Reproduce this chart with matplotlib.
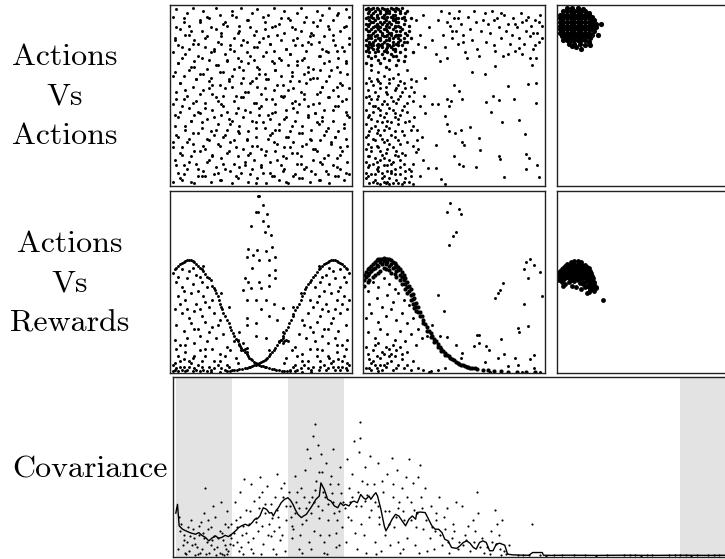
"""Actions vs actions / actions vs rewards scatter grid with covariance trace."""
import numpy as np
import matplotlib

matplotlib.use("Agg")
import matplotlib.pyplot as plt

# every scatter panel is normalised to 0..100 on both axes

# --- row 1, col 1: uniform actions (read band by band) ---
AA_UNI_X = [
    1, 4, 6, 9, 13, 15, 18, 22, 24, 27, 30, 34, 36, 39, 43, 45, 48, 51, 53, 57, 60, 62, 65, 69, 71, 74, 77, 80, 82, 86, 88, 91, 94, 96, 99,
    2, 5, 7, 11, 14, 16, 20, 23, 25, 28, 32, 35, 37, 41, 44, 46, 50, 52, 55, 58, 61, 64, 67, 70, 72, 75, 79, 81, 84, 87, 90, 92, 95, 98,
    1, 3, 6, 10, 12, 15, 19, 21, 24, 27, 29, 33, 36, 38, 42, 45, 47, 50, 54, 56, 59, 63, 65, 68, 71, 73, 77, 79, 83, 85, 89, 91, 94, 97,
    2, 4, 8, 11, 13, 17, 20, 22, 26, 28, 31, 34, 38, 40, 43, 47, 49, 52, 55, 58, 60, 64, 66, 69, 73, 76, 78, 81, 84, 87, 90, 93, 96, 99,
    1, 5, 7, 10, 14, 16, 19, 23, 25, 29, 31, 35, 37, 40, 44, 46, 49, 53, 56, 58, 62, 64, 67, 70, 74, 76, 80, 82, 85, 88, 91, 95, 97,
    3, 5, 9, 12, 14, 18, 21, 23, 27, 30, 32, 36, 39, 41, 45, 48, 50, 54, 57, 59, 63, 66, 68, 72, 75, 77, 81, 84, 86, 90, 93, 95, 99,
    2, 4, 7, 11, 13, 16, 20, 22, 25, 29, 31, 34, 38, 40, 43, 47, 49, 52, 56, 58, 61, 65, 67, 70, 74, 76, 79, 83, 85, 88, 92, 94, 97,
    1, 4, 6, 10, 12, 15, 19, 21, 24, 28, 30, 33, 37, 39, 42, 46, 48, 51, 55, 57, 60, 64, 66, 69, 73, 75, 78, 82, 84, 87, 91, 93, 96, 99,
    2, 5, 8, 10, 13, 17, 20, 22, 26, 28, 31, 35, 38, 40, 44, 46, 49, 52, 54, 58, 61, 63, 67, 70, 72, 76, 79, 81, 85, 88, 90, 94, 97,
    1, 3, 7, 9, 12, 16, 18, 21, 25, 27, 30, 34, 36, 39, 43, 45, 48, 52, 54, 57, 61, 63, 66, 70, 72, 75, 79, 81, 84, 88, 90, 93, 97, 99,
]
AA_UNI_Y = [
    2, 7, 3, 9, 1, 5, 8, 2, 6, 3, 9, 1, 5, 7, 2, 9, 4, 7, 1, 5, 3, 8, 1, 6, 4, 9, 2, 6, 3, 8, 1, 5, 9, 3, 6,
    14, 18, 11, 16, 12, 19, 13, 17, 10, 15, 19, 12, 16, 11, 18, 14, 10, 17, 13, 19, 11, 15, 18, 12, 16, 10, 14, 19, 12, 17, 11, 15, 19, 13,
    24, 28, 21, 26, 23, 29, 20, 25, 28, 22, 27, 24, 21, 29, 25, 22, 27, 20, 26, 29, 23, 21, 27, 24, 29, 22, 26, 20, 25, 28, 23, 27, 21, 26,
    33, 38, 31, 36, 39, 32, 37, 30, 34, 39, 31, 36, 33, 38, 30, 35, 39, 32, 37, 31, 34, 38, 30, 36, 33, 39, 31, 35, 38, 32, 36, 30, 34, 38,
    45, 41, 48, 43, 47, 40, 46, 42, 49, 44, 41, 47, 43, 49, 41, 46, 43, 48, 40, 45, 49, 42, 46, 41, 48, 44, 40, 46, 42, 49, 44, 47, 41,
    52, 57, 50, 55, 59, 53, 58, 51, 56, 54, 59, 50, 57, 52, 58, 55, 51, 59, 53, 56, 50, 58, 54, 52, 57, 59, 51, 55, 58, 53, 50, 56, 54,
    63, 68, 61, 66, 69, 62, 65, 60, 67, 63, 69, 61, 66, 64, 68, 60, 65, 62, 69, 64, 61, 67, 63, 69, 62, 66, 60, 64, 68, 61, 66, 63, 69,
    74, 78, 71, 76, 79, 72, 77, 70, 75, 79, 73, 76, 71, 78, 74, 70, 77, 72, 79, 75, 71, 76, 73, 78, 70, 75, 79, 72, 76, 74, 78, 71, 75, 79,
    82, 87, 84, 89, 81, 86, 83, 88, 80, 85, 89, 82, 86, 81, 88, 84, 80, 87, 83, 89, 81, 85, 88, 82, 86, 80, 84, 89, 83, 87, 81, 86, 89,
    94, 98, 91, 96, 99, 92, 97, 93, 99, 95, 91, 97, 94, 99, 92, 96, 98, 91, 95, 99, 93, 97, 92, 96, 99, 94, 91, 97, 95, 99, 92, 96, 98, 94,
]
# second pass over the same panel, bands shifted by half a band
AA_UNI2_X = [
    3, 7, 10, 15, 17, 21, 26, 29, 33, 38, 41, 44, 50, 55, 59, 63, 68, 72, 78, 83, 87, 92, 97,
    1, 6, 9, 13, 18, 23, 26, 31, 35, 40, 43, 48, 53, 57, 62, 66, 70, 75, 80, 85, 89, 94, 98,
    4, 8, 12, 17, 20, 25, 30, 33, 37, 42, 47, 51, 55, 60, 64, 67, 73, 78, 82, 86, 91, 96,
    2, 6, 11, 15, 19, 24, 28, 32, 36, 41, 45, 50, 54, 58, 63, 68, 71, 76, 80, 84, 90, 93, 98,
    3, 8, 12, 16, 21, 26, 29, 34, 39, 43, 47, 52, 56, 61, 65, 69, 74, 79, 83, 87, 92, 97,
    1, 5, 10, 14, 18, 23, 27, 32, 35, 40, 44, 49, 53, 58, 62, 67, 71, 76, 81, 84, 89, 94, 98,
    4, 8, 13, 17, 22, 26, 31, 35, 39, 44, 48, 53, 57, 61, 66, 70, 74, 79, 83, 88, 92, 97,
    2, 6, 10, 15, 19, 24, 28, 33, 37, 42, 46, 51, 55, 59, 64, 68, 73, 77, 82, 86, 90, 95, 99,
    3, 7, 11, 16, 20, 25, 29, 34, 38, 42, 47, 51, 56, 60, 65, 69, 74, 78, 83, 87, 92, 96,
    5, 11, 19, 28, 37, 47, 56, 64, 73, 83, 93,
]
AA_UNI2_Y = [
    11, 6, 13, 9, 5, 14, 7, 12, 8, 10, 13, 6, 11, 7, 14, 9, 5, 12, 8, 13, 6, 10, 7,
    21, 17, 24, 19, 22, 16, 23, 18, 25, 20, 17, 22, 19, 24, 16, 21, 18, 23, 20, 15, 24, 17, 22,
    27, 33, 29, 35, 26, 31, 28, 34, 30, 26, 32, 35, 28, 31, 27, 33, 29, 25, 34, 30, 27, 32,
    39, 44, 36, 41, 43, 38, 45, 37, 40, 42, 36, 44, 39, 41, 37, 43, 45, 38, 40, 36, 42, 44, 39,
    48, 53, 46, 51, 54, 47, 50, 55, 49, 52, 46, 54, 48, 50, 53, 47, 51, 45, 52, 49, 55, 48,
    61, 57, 64, 59, 62, 56, 63, 58, 65, 60, 57, 62, 59, 64, 56, 61, 58, 63, 60, 55, 64, 57, 62,
    68, 73, 66, 71, 74, 67, 70, 75, 69, 72, 66, 74, 68, 70, 73, 67, 71, 65, 72, 69, 75, 68,
    81, 77, 84, 79, 82, 76, 83, 78, 85, 80, 77, 82, 79, 84, 76, 81, 78, 83, 80, 75, 84, 77, 82,
    88, 93, 86, 91, 94, 87, 90, 95, 89, 92, 86, 94, 88, 90, 93, 87, 91, 85, 92, 89, 95, 88,
    4, 2, 5, 3, 4, 1, 5, 2, 4, 3, 5,
]

# --- row 1, col 2: actions after partial learning ---
AA_MID_CLUSTER = [
    (1, 98), (3, 97), (5, 99), (6, 97), (8, 98), (10, 99), (12, 97), (13, 98), (15, 99), (17, 97), (19, 98), (21, 99), (24, 97),
    (2, 96), (4, 95), (5, 96), (7, 94), (9, 96), (11, 95), (13, 94), (14, 96), (16, 95), (18, 93), (20, 96), (22, 94),
    (1, 93), (3, 92), (4, 94), (6, 92), (8, 93), (9, 91), (11, 93), (12, 92), (14, 91), (16, 93), (17, 92), (19, 91), (21, 93), (23, 92),
    (1, 90), (2, 89), (4, 91), (6, 89), (7, 90), (9, 88), (10, 90), (12, 89), (14, 88), (15, 90), (17, 89), (18, 91), (20, 88), (22, 90), (25, 89),
    (1, 87), (3, 86), (5, 88), (6, 86), (8, 87), (10, 85), (11, 87), (13, 86), (15, 85), (16, 87), (18, 86), (19, 84), (21, 87), (23, 85),
    (2, 84), (3, 83), (5, 85), (7, 84), (9, 82), (10, 84), (12, 83), (14, 82), (15, 84), (17, 83), (19, 82), (20, 84), (22, 82), (24, 84),
    (1, 81), (3, 80), (4, 82), (6, 81), (8, 79), (9, 81), (11, 80), (13, 79), (14, 81), (16, 80), (18, 79), (20, 81), (21, 78), (26, 82),
    (1, 78), (2, 77), (4, 79), (5, 78), (7, 76), (9, 78), (10, 77), (12, 76), (14, 78), (15, 77), (17, 76), (19, 78), (22, 80),
    (1, 75), (3, 74), (5, 76), (6, 74), (8, 75), (10, 73), (12, 75), (13, 74), (15, 73), (17, 75), (18, 72), (20, 74), (23, 76),
    (2, 72), (4, 71), (6, 72), (8, 70), (11, 71), (14, 70), (16, 72), (19, 70), (23, 72), (27, 74),
    (1, 68), (4, 67), (9, 68), (12, 66), (18, 67), (22, 69),
    (2, 99), (4, 98), (7, 99), (9, 97), (11, 98), (14, 97), (16, 98), (18, 99), (20, 97), (2, 94), (5, 93), (7, 95),
    (10, 94), (12, 96), (15, 94), (17, 95), (19, 93), (3, 90), (5, 91), (8, 89), (11, 91), (13, 90), (16, 92), (19, 89),
    (2, 86), (4, 87), (7, 88), (9, 86), (12, 87), (14, 85), (17, 88), (20, 86), (2, 82), (4, 84), (6, 83), (8, 82),
    (11, 83), (13, 84), (16, 82), (18, 84), (3, 79), (5, 80), (7, 78), (10, 79), (12, 81), (16, 78), (19, 80), (2, 76),
    (4, 77), (8, 77), (11, 75), (13, 77), (16, 76), (24, 80), (25, 86), (26, 93), (23, 96),
]
AA_MID_LEFT = [
    (3, 60), (7, 59), (11, 61), (16, 60), (20, 58), (26, 59),
    (1, 57), (5, 56), (8, 58), (12, 55), (14, 57), (19, 56), (23, 54),
    (2, 53), (6, 52), (9, 54), (13, 51), (17, 53), (21, 52), (25, 50),
    (1, 49), (4, 48), (8, 50), (11, 47), (15, 49), (19, 48), (27, 47),
    (3, 46), (6, 44), (10, 45), (14, 43), (18, 46), (22, 44),
    (1, 42), (5, 41), (8, 43), (12, 40), (16, 42), (20, 39), (24, 41),
    (2, 38), (4, 37), (9, 39), (13, 36), (17, 38), (23, 35),
    (1, 34), (6, 33), (10, 35), (14, 32), (19, 34), (26, 31),
    (3, 30), (7, 29), (11, 31), (15, 28), (21, 30),
    (1, 27), (5, 26), (9, 28), (13, 25), (17, 27), (24, 24),
    (2, 23), (7, 22), (11, 24), (16, 21), (20, 23),
    (1, 20), (4, 19), (8, 21), (12, 18), (18, 19), (23, 17),
    (3, 16), (6, 15), (10, 17), (14, 14), (19, 16),
    (1, 13), (5, 12), (9, 14), (13, 11), (16, 13), (22, 12),
    (2, 10), (7, 9), (11, 11), (15, 8), (20, 10), (25, 9),
    (1, 7), (4, 6), (8, 8), (11, 5), (15, 7), (20, 6), (26, 5),
    (1, 4), (6, 3), (10, 4), (13, 2), (18, 3), (23, 4),
    (3, 1), (5, 2), (9, 0.5), (12, 1), (16, 1), (21, 0.5), (14, 0.5),
    (4, 58), (9, 57), (14, 59), (18, 54), (22, 57), (3, 50), (7, 48), (12, 52), (16, 47), (20, 50), (24, 46),
    (5, 44), (9, 42), (13, 45), (17, 40), (21, 42), (3, 39), (7, 36), (11, 38), (15, 35), (19, 37), (25, 36),
    (4, 32), (8, 31), (12, 33), (17, 30), (22, 28), (2, 28), (6, 25), (10, 26), (14, 23), (19, 25), (4, 21),
    (9, 19), (13, 20), (17, 17), (21, 18), (2, 16), (7, 13), (11, 15), (15, 12), (20, 14), (3, 11), (8, 10),
    (13, 8), (17, 9), (23, 8), (2, 5), (6, 6), (10, 7), (14, 4), (17, 6), (22, 2), (7, 1), (11, 2), (19, 1),
    (25, 2), (27, 12), (28, 38), (26, 55), (4, 64), (8, 63), (14, 65), (19, 62), (24, 64),
]
AA_MID_TOP = [
    (33, 95), (36, 88), (38, 81), (41, 92), (44, 84), (45, 77), (47, 96), (48, 89), (49, 82), (50, 93), (51, 86),
    (52, 79), (54, 90), (55, 84), (56, 74), (58, 94), (59, 87), (60, 81), (62, 91), (63, 76), (65, 86), (67, 96),
    (68, 80), (69, 90), (70, 85), (71, 97), (72, 78), (74, 93), (75, 88), (76, 82), (77, 72), (78, 95), (79, 86),
    (80, 90), (81, 79), (82, 84), (83, 93), (84, 75), (85, 88), (86, 82), (87, 96), (88, 91), (89, 79), (90, 86),
    (91, 94), (92, 83), (93, 89), (94, 76), (95, 92), (96, 85), (97, 80), (98, 95), (99, 89), (31, 84), (34, 77),
    (40, 73), (43, 97), (46, 71), (53, 97), (57, 71), (61, 97), (64, 72), (66, 92), (73, 75), (88, 73), (92, 71),
    (95, 78), (99, 82), (29, 92), (30, 79), (46, 91), (49, 86), (52, 93), (55, 80), (72, 92), (76, 96), (84, 90),
    (90, 92), (94, 85), (97, 91),
]
AA_MID_SPARSE = [
    (34, 60), (42.5, 69), (60, 63), (67, 62), (50, 56), (53, 52.5), (33.6, 50), (46, 48), (54.7, 48), (37.6, 45.5),
    (41, 45.5), (47, 44), (48.6, 47), (68, 46.4), (71.5, 50), (75, 47.7), (80, 55.4), (83.5, 48), (91, 56.5),
    (95.4, 57), (95.4, 46), (70.6, 41), (76.7, 35.4), (86, 36.3), (45, 38.5), (46, 34), (47.3, 30), (50.5, 29),
    (54, 31), (58.7, 32.3), (63.8, 26.2), (54.7, 23.9), (55.4, 22.6), (64.6, 19.4), (40, 22.6), (50, 16.5),
    (52.8, 12), (55, 10.6), (62.4, 10), (75, 16.5), (75.8, 14.7), (89.5, 28.4), (90, 17.6), (91.4, 15.2),
    (96.3, 11.2), (90, 8.8), (97, 4.8), (78, 4.8), (42.6, 3.3), (45, 0.5), (35.8, 9.7), (40, 9.7), (29.4, 30.8),
    (29.7, 25.3), (29, 18.3), (27.5, 0.5), (73, 66.6), (93.2, 66.9), (79.8, 73), (95.4, 71.2), (86.2, 76.7),
    (28, 52), (31, 44), (27, 33), (30, 20), (33, 14), (26, 8), (31, 5), (29, 58), (32, 27), (27, 22), (34, 40),
]

# --- row 1, col 3: converged actions ---
AA_END_BLOB = [
    (5, 99), (8, 99), (11, 99), (14, 98),
    (3, 97), (5, 97), (7, 97), (9, 97), (11, 97), (13, 97), (15, 97), (17, 96),
    (1, 95), (3, 95), (5, 95), (7, 95), (9, 95), (11, 95), (13, 95), (15, 95), (17, 95), (19, 94),
    (1, 93), (3, 93), (5, 93), (7, 93), (9, 93), (11, 93), (13, 93), (15, 93), (17, 93), (19, 93), (20, 92),
    (1, 91), (3, 91), (5, 91), (7, 91), (9, 91), (11, 91), (13, 91), (15, 91), (17, 91), (19, 91), (21, 90),
    (1, 89), (3, 89), (5, 89), (7, 89), (9, 89), (11, 89), (13, 89), (15, 89), (17, 89), (19, 89), (21, 88),
    (1, 87), (3, 87), (5, 87), (7, 87), (9, 87), (11, 87), (13, 87), (15, 87), (17, 87), (19, 87), (20, 86),
    (1, 85), (3, 85), (5, 85), (7, 85), (9, 85), (11, 85), (13, 85), (15, 85), (17, 85), (19, 84),
    (2, 83), (4, 83), (6, 83), (8, 83), (10, 83), (12, 83), (14, 83), (16, 83), (18, 82),
    (3, 81), (5, 81), (7, 81), (9, 81), (11, 81), (13, 81), (15, 81), (17, 80),
    (6, 79), (9, 79), (12, 79), (15, 78), (10, 77), (13, 76), (8, 77.5),
    (24, 90), (22, 84), (18, 78),
]

# --- row 2, col 1: action vs reward, early ---
AR_START_LEFT_CURVE = [
    (1, 55), (2, 57), (3, 58), (4, 59), (5, 60), (6, 60.5), (7, 61), (8, 61.5), (9, 62), (10, 62), (11, 62),
    (12, 61.5), (13, 61), (14, 60), (15, 59), (16, 58), (17, 57), (18, 56), (19, 54.5), (20, 53), (21, 52),
    (22, 51), (23, 48), (24, 46.5), (24.5, 45.5), (25, 44), (26, 42), (26.5, 40), (27, 38), (28, 36), (28.5, 35),
    (29, 33), (30, 31), (31, 29), (32, 27), (33, 25), (33.6, 23.5), (34.5, 21.5), (35, 20), (36, 18.5), (37, 17),
    (38, 15.5), (38.5, 14.5), (39, 13.5), (40, 12.5), (41, 11), (42, 10), (43, 8.8), (43.6, 8), (44.5, 7.2),
    (45, 6.5), (46, 5.7), (47, 5), (48, 4.5), (49, 4), (50, 3.6), (51, 3.3), (52, 2.9), (53, 2.6), (54.5, 2.2),
    (56, 1.8), (57, 1.6), (58.5, 1.3), (60, 1), (61.5, 0.8), (63, 0.7), (64.5, 0.6), (66, 0.5), (69, 0.4), (73, 0.3), (78, 0.2),
]
AR_START_RIGHT_CURVE = [
    (99, 55), (98, 57), (97, 58), (96, 59), (95, 60), (94, 60.5), (93, 61), (92, 61.5), (91, 62), (90, 62), (89, 62),
    (88, 61.5), (87, 61), (86, 60.5), (85, 60), (84, 59), (83, 58), (82, 57), (81, 55.5), (80, 54), (79, 52.5),
    (78, 51), (77, 50), (76, 49), (75, 47.5), (74.5, 46), (74, 44), (73, 42), (72, 40), (71, 38), (70, 36),
    (69, 34.5), (68, 32.5), (67.5, 31), (66.5, 29), (65.5, 27), (65, 25), (64, 23.5), (63, 21.5), (62, 20),
    (61, 18), (60, 16.5), (59, 15), (58, 13.4), (57, 12), (56, 11), (55, 9.8), (54.5, 8.8), (53.5, 8),
    (53, 7.5), (52, 6.7), (51, 6), (50, 5.5), (49, 5), (48, 4.6), (47, 4.2), (46, 3.8), (45, 3.4), (44, 3),
    (43.6, 2.8), (42, 2.4), (41, 2.1), (39.5, 1.8), (38, 1.5), (36.5, 1.2), (35, 1), (33, 0.7), (31, 0.5), (27, 0.3), (22, 0.2),
]
AR_START_SCATTER = [
    (3, 50), (6, 47), (9, 52), (12, 49), (15, 45), (4, 42), (8, 40), (11, 44), (14, 38), (18, 42), (20, 47), (2, 35),
    (6, 33), (10, 30), (13, 34), (17, 31), (21, 36), (24, 33), (3, 26), (7, 23), (11, 27), (15, 24), (19, 28), (23, 25),
    (27, 29), (2, 18), (5, 15), (9, 19), (13, 16), (16, 20), (20, 17), (25, 19), (29, 21), (31, 14), (4, 9), (8, 11),
    (12, 8), (16, 12), (19, 9), (23, 13), (27, 10), (33, 12), (35, 17), (1, 4), (3, 2), (5, 6), (7, 3), (9, 1),
    (11, 5), (13, 2), (15, 4), (18, 1), (21, 3), (24, 6), (28, 2), (31, 4), (34, 1), (37, 5), (2, 1), (6, 1),
    (10, 3), (14, 1), (17, 6), (22, 1), (26, 4), (30, 1), (6, 57), (10, 56), (14, 54), (4, 53), (17, 50), (23, 40),
    (26, 26), (32, 36), (28, 44), (36, 8), (38, 22), (1, 0.5), (4, 0.8), (8, 0.5), (12, 0.6), (16, 0.4), (20, 0.7),
    (97, 50), (94, 47), (91, 52), (88, 49), (85, 45), (96, 42), (92, 40), (89, 44), (86, 38), (82, 42), (80, 47),
    (98, 35), (94, 33), (90, 30), (87, 34), (83, 31), (79, 36), (76, 33), (97, 26), (93, 23), (89, 27), (85, 24),
    (81, 28), (77, 25), (73, 29), (98, 18), (95, 15), (91, 19), (87, 16), (84, 20), (80, 17), (75, 19), (71, 21),
    (69, 14), (96, 9), (92, 11), (88, 8), (84, 12), (81, 9), (77, 13), (73, 10), (67, 12), (65, 17), (99, 4),
    (97, 2), (95, 6), (93, 3), (91, 1), (89, 5), (87, 2), (85, 4), (82, 1), (79, 3), (76, 6), (72, 2), (69, 4),
    (66, 1), (63, 5), (98, 1), (94, 1), (90, 3), (86, 1), (83, 6), (78, 1), (74, 4), (70, 1), (94, 57), (90, 56),
    (86, 54), (96, 53), (83, 50), (77, 40), (74, 26), (68, 36), (72, 44), (64, 8), (62, 22), (99, 40),
    (61, 18), (62, 19), (63, 17), (62, 16), (64, 18), (60, 17), (38, 15), (40, 16), (39, 12), (41, 13), (37, 18), (42, 11),
    (48.5, 97.5), (49, 98), (47, 89), (48.5, 89), (51, 92.5), (53.6, 88), (44.5, 81), (54, 81), (52, 77.5), (55.5, 76),
    (42.7, 68.5), (48, 67.5), (53, 67), (56, 69.5), (42, 64), (45.5, 65), (48.7, 62), (54.5, 62), (58, 64), (58, 56.5),
    (54.5, 54), (41, 52), (42.7, 50), (48.7, 50), (54.5, 48), (58, 52), (44.5, 46.5), (50, 46.5), (40, 45.5), (42, 40),
    (47, 40), (52.7, 40), (57, 38), (62, 35.5), (42, 30), (54.5, 31), (59, 29), (47, 27.5), (42.4, 26), (47, 20),
    (52.7, 19), (54.5, 12.5), (42, 13.4), (50, 35), (45, 58), (51, 84),
    (2, 5), (5, 3), (7, 7), (10, 6), (13, 9), (17, 3), (19, 13), (24, 2), (27, 6), (30, 9), (32, 3), (8, 15),
    (3, 13), (13, 24), (21, 22), (7, 45), (5, 38), (9, 35), (16, 35), (19, 39), (12, 58), (16, 53), (18, 59),
    (98, 5), (95, 3), (93, 7), (90, 6), (87, 9), (83, 3), (81, 13), (76, 2), (73, 6), (70, 9), (68, 3), (92, 15),
    (97, 13), (87, 24), (79, 22), (93, 45), (95, 38), (91, 35), (84, 35), (81, 39), (88, 58), (84, 53), (82, 59),
]

# --- row 2, col 2: action vs reward, mid training ---
AR_MID_BAND = [
    (0, 54), (2, 57), (4, 59), (6, 61), (8, 62.5), (10, 63), (12, 63), (14, 62.5), (16, 61), (18, 59.5), (20, 57),
    (22, 54), (24, 50), (26, 46), (28, 41), (30, 36), (32, 31), (34, 26.5), (36, 23), (38, 20), (40, 17), (42, 14),
    (44, 11.5), (46, 9.5), (48, 8), (50, 6.5), (52, 5.2), (54, 4.2), (56, 3.5), (58, 2.8), (60, 2.2), (63, 1.7),
    (66, 1.2), (69, 0.9), (72, 0.6), (76, 0.4), (80, 0.3), (85, 0.2), (90, 0.1), (95, 0.1),
    (1, 55.5), (3, 58), (5, 60), (7, 62), (9, 63), (11, 63.2), (13, 63), (15, 62), (17, 60.5), (19, 58.5), (21, 55.5),
    (23, 52), (25, 48), (27, 43.5), (29, 38.5), (31, 33.5), (33, 29), (35, 25), (37, 21.5), (39, 18.5), (41, 15.5),
    (43, 12.7), (45, 10.5), (47, 8.7), (49, 7.2), (51, 5.8), (53, 4.7), (55, 3.8), (57, 3.1), (59, 2.5), (61.5, 2),
    (0, 51), (2, 54), (4, 56), (6, 58), (8, 59), (10, 60), (12, 60), (14, 59), (16, 58), (18, 56), (20, 54), (22, 51),
    (24, 47), (26, 43), (28, 38), (30, 33.5), (1, 52.5), (3, 55), (5, 57), (7, 59.5), (9, 61), (11, 61.5), (13, 61),
    (15, 60), (17, 58.5), (19, 56.5), (21, 52.5), (23, 49), (25, 45), (27, 40.5), (29, 36),
    (0, 48), (3, 51), (6, 54), (9, 56), (12, 57), (15, 55), (18, 53), (21, 49), (24, 44), (27, 38), (29, 34),
    (31, 31), (33, 27), (35, 23), (37, 19.5), (39, 16.5), (41, 14), (43, 11.5), (45, 9.5),
    (2, 50), (5, 53), (8, 55), (11, 57.5), (14, 56.5), (17, 54.5), (20, 51), (23, 46), (26, 40), (28, 35.5),
]
AR_MID_SCATTER = [
    (2, 45), (5, 50), (8, 47), (11, 52), (14, 49), (17, 46), (20, 51), (3, 38), (7, 41), (10, 36), (13, 43), (16, 39),
    (19, 44), (22, 40), (25, 37), (1, 30), (4, 33), (8, 28), (12, 31), (15, 35), (18, 29), (21, 33), (24, 27), (27, 30),
    (30, 24), (2, 22), (6, 19), (9, 24), (13, 21), (17, 18), (20, 23), (23, 17), (26, 21), (29, 15), (32, 19), (35, 20),
    (1, 14), (5, 12), (8, 16), (11, 10), (14, 13), (17, 9), (20, 14), (24, 11), (3, 7), (6, 4), (9, 8), (12, 3),
    (15, 6), (18, 2), (21, 7), (24, 4), (27, 6), (1, 2), (4, 1), (7, 2), (10, 1), (13, 5), (16, 1), (19, 4), (22, 2),
    (2, 10), (5, 6), (10, 11), (14, 9), (16, 15), (3, 2), (8, 0.5), (11, 4), (26, 1), (30, 2), (33, 1), (37, 0.5),
    (41, 1), (45, 2), (6, 15), (12, 14), (9, 4), (15, 10), (18, 12), (4, 5), (7, 9), (21, 10),
    (48, 94), (46, 88.6), (52.7, 90.5), (54, 88), (51, 78), (49.5, 75.7), (47, 70.8),
    (90, 61), (92, 62.5), (89, 57), (94.5, 59.5), (98, 55.6), (91, 52), (88.7, 38), (91, 25.7), (85.5, 24.4),
    (85.8, 22), (77, 49.5), (75.5, 45.5), (74.5, 43.7), (72.7, 41.3), (99, 42), (41, 42.8), (44.5, 33.8), (46, 19.4),
    (63, 20.7), (64, 20.7), (61, 14.7), (63.6, 16.1), (68, 14.3), (69.5, 12.5), (76, 18.5), (78, 10), (74.5, 7.9),
    (83.6, 7.9), (94.5, 9.4), (92, 7.3), (80, 3.3), (85.5, 4.2), (94.5, 2.4), (67, 5.5), (54.5, 10.6), (54, 7.9),
    (51, 15.2), (42, 19.8), (38, 26.4), (36, 0.3), (70, 0.3), (88, 0.3), (98, 0.3),
]

# --- row 2, col 3: converged action vs reward ---
AR_END_DOME = [
    (7, 61), (9, 61.5), (11, 61.5), (13, 61),
    (5, 60), (7, 60), (9, 60), (11, 60), (13, 60), (15, 59.5),
    (4, 59), (6, 59), (8, 59), (10, 59), (12, 59), (14, 59), (16, 58.5),
    (3, 58), (5, 58), (7, 58), (9, 58), (11, 58), (13, 58), (15, 58), (17, 57.5),
    (2, 57), (4, 57), (6, 57), (8, 57), (10, 57), (12, 57), (14, 57), (16, 57), (18, 56),
    (1, 56), (3, 56), (5, 56), (7, 56), (9, 56), (11, 56), (13, 56), (15, 56), (17, 56), (18.5, 55),
    (0.5, 55), (2, 55), (4, 55), (6, 55), (8, 55), (10, 55), (12, 55), (14, 55), (16, 55), (18, 54.5), (19, 53.5),
    (0.5, 54), (2, 54), (4, 54), (6, 54), (8, 54), (10, 54), (12, 54), (14, 54), (16, 54), (18, 53), (19.5, 52),
    (0.5, 53), (3, 53), (5, 53), (7, 53), (9, 53), (11, 53), (13, 53), (15, 53), (17, 52), (19, 51), (20, 50),
    (1, 52), (4, 52), (6, 52), (8, 52), (10, 52), (12, 52), (14, 52), (16, 51), (18, 50), (20, 49),
    (0.5, 51), (3, 51), (7, 51), (11, 51), (13, 50.5), (15, 50), (17, 49), (19, 48), (21, 47.5),
    (2, 50), (6, 50), (9, 50.5), (14, 49), (16, 48), (18, 47.5), (20, 46.5),
    (4, 49), (12, 49.5), (17, 47), (19, 46), (21, 46.5), (8, 48), (15, 47), (18, 45.5), (20, 45), (13, 46), (17, 44.5),
    (25, 40), (16, 44), (3, 48), (10, 47),
]

# --- row 3: covariance trace (x = training progress 0..100) ---
COV_LINE_X = [
    0.0, 0.3, 0.6, 1.2, 1.8, 2.6, 3.5, 4.1, 4.7, 5.3, 5.9, 6.5, 7.1, 7.6, 8.2, 8.8, 9.4, 9.8, 10.3, 10.8, 11.2, 11.8,
    12.4, 13.0, 13.6, 14.1, 14.6, 15.0, 15.6, 16.2, 16.7, 17.1, 17.4, 17.9, 18.3, 18.8, 19.4, 20.0, 20.5, 20.9, 21.4,
    21.8, 22.4, 22.9, 23.3, 23.7, 24.1, 24.6, 25.0, 25.6, 25.9, 26.2, 26.5, 27.1, 27.7, 28.3, 28.9, 29.4, 29.9, 30.3,
    30.9, 31.4, 31.8, 32.4, 33.0, 33.5, 33.9, 34.5, 34.8, 35.4, 35.7, 36.0, 36.6, 37.2, 37.5, 38.0, 38.6, 39.2, 39.8,
    40.4, 41.0, 41.6, 42.2, 42.8, 43.0, 43.6, 44.5, 45.1, 45.7, 46.3, 46.9, 47.5, 48.0, 48.6, 49.2, 50.1, 50.7, 51.3,
    51.9, 52.5, 53.1, 53.6, 54.2, 54.8, 55.4, 56.0, 56.6, 57.2, 57.8, 58.7, 59.2, 60.1, 61.0, 62.0, 63.0, 63.7, 65.4,
    65.6, 67.0, 70.0, 75.0, 80.0, 85.0, 90.0, 95.0, 100.0,
]
COV_LINE_Y = [
    24.0, 28.9, 16.9, 15.0, 14.1, 13.0, 12.2, 13.1, 11.5, 10.4, 8.5, 10.2, 11.3, 10.0, 10.4, 11.6, 10.9, 11.8, 13.1, 14.5,
    15.9, 17.0, 17.8, 16.9, 18.6, 20.6, 21.0, 22.4, 27.0, 26.1, 24.0, 24.3, 22.4, 25.5, 27.0, 29.8, 31.7, 32.6, 31.0,
    28.9, 25.5, 23.3, 21.5, 22.6, 23.3, 25.2, 27.0, 29.5, 31.7, 33.5, 40.9, 39.0, 37.2, 31.7, 30.7, 28.0, 27.0, 29.8,
    28.2, 28.9, 28.0, 30.2, 30.7, 29.8, 34.4, 32.5, 31.7, 33.5, 31.7, 34.4, 35.4, 33.5, 26.1, 16.9, 14.1, 16.9, 20.6,
    23.3, 22.4, 19.6, 16.9, 20.6, 22.4, 20.6, 24.3, 24.6, 24.3, 20.6, 16.9, 15.0, 15.0, 13.1, 9.4, 8.5, 4.8, 4.3,
    5.7, 7.6, 8.5, 7.2, 4.8, 3.9, 7.6, 8.5, 7.6, 3.0, 3.0, 6.7, 7.2, 6.1, 1.1, 0.7, 0.6, 0.5, 0.5, 2.0, 2.0, 0.5,
    0.4, 0.5, 0.4, 0.5, 0.4, 0.5, 0.4, 0.5,
]
COV_POINTS = [
    (0.5, 22), (1, 18), (1.5, 12), (2, 8), (2.3, 3), (3, 15), (3.2, 10), (3.8, 5), (4, 1), (4.5, 19), (4.8, 13),
    (5.2, 38), (5.5, 8), (6, 2), (6.3, 16), (6.8, 11), (7, 22), (7.4, 5), (7.8, 14), (8.2, 1), (8.5, 9), (8.8, 18),
    (9.1, 25), (9.4, 3), (9.7, 12), (2.7, 20), (5, 24), (6.6, 28), (8, 30), (1.2, 6), (3.5, 0.5), (7.2, 0.8),
    (9.9, 18), (9.6, 7), (4.2, 17), (5.8, 20), (8.9, 4), (1.7, 2), (2.9, 6), (5.3, 1), (6.2, 6), (8.6, 0.5),
    (10.2, 6), (10.5, 30), (10.8, 20), (11.2, 3), (11.5, 36), (11.8, 12), (12.2, 43), (12.5, 26), (12.8, 8),
    (13, 18), (13.4, 40), (13.7, 2), (14, 31), (14.3, 21), (14.6, 14), (15, 44), (15.3, 36), (15.6, 7), (16, 24),
    (16.3, 39), (16.6, 18), (17, 29), (17.3, 4), (17.7, 33), (18, 46), (18.3, 22), (18.7, 38), (19, 12),
    (19.3, 41), (19.7, 28), (11, 16), (12, 1), (14.8, 27), (16.9, 11), (18.5, 16), (19.5, 3),
    (20.2, 36), (20.5, 22), (20.8, 10), (21.2, 45), (21.5, 30), (21.9, 4), (22.3, 38), (22.6, 18), (23, 48),
    (23.3, 27), (23.7, 8), (24, 55), (24.3, 33), (24.4, 66.8), (24.6, 14), (24.9, 73.9), (25.1, 42), (25.3, 62),
    (25.6, 21), (25.9, 57), (26.2, 36), (26.5, 2), (26.8, 52), (27.1, 29), (27.4, 12), (27.7, 45), (28, 60),
    (28.3, 24), (28.6, 5), (29, 40), (29.3, 50), (29.6, 16), (29.9, 30), (22, 27), (26, 47), (27.9, 35), (21, 15),
    (23.5, 60), (25.5, 47), (28.8, 20), (24.7, 30), (26.4, 8),
    (30.3, 8), (30.6, 54), (30.9, 38), (31.2, 20), (31.5, 46), (31.8, 64), (32.1, 28), (32.4, 4), (32.7, 58),
    (32.9, 74.8), (32.9, 65.8), (33.2, 42), (33.5, 12), (33.8, 50), (34.1, 34), (34.4, 22), (34.7, 56), (31, 30),
    (34, 2), (33, 18),
    (35.3, 40), (35.6, 8), (36, 28), (36.3, 18), (36.6, 3), (37, 36), (37.3, 12), (37.6, 46), (38, 25), (38.3, 6),
    (38.7, 33), (39, 16), (39.4, 48), (39.7, 27), (40, 2), (40.3, 38), (40.7, 20), (41, 44), (41.3, 10), (41.6, 54),
    (42, 30), (42.4, 41), (42.7, 6), (43, 24), (43.5, 51), (43.8, 33), (44.2, 15), (44.5, 38), (44.8, 3), (36, 52),
    (38.5, 55), (40.5, 4), (42.8, 16),
    (45.3, 10), (45.6, 28), (46, 4), (46.5, 20), (47, 33), (47.5, 6), (48, 15), (48.4, 27), (48.8, 2), (49.2, 10),
    (50, 30), (51, 28.2), (51.3, 6), (51.6, 12), (52.5, 3), (53, 20), (53.4, 14), (53.7, 35.8), (53.9, 24),
    (54.3, 5), (55, 2), (56.5, 8), (57, 26), (57.3, 18), (57.6, 12), (57.8, 4), (58.2, 20), (59, 1), (63.6, 18.2),
    (46.2, 14), (49.5, 18), (50.5, 8),
    (61, 0.5), (62, 0.8), (63, 0.4), (65, 0.6), (66, 0.3), (67.5, 0.7), (69, 0.4), (71, 0.5), (73, 0.6), (75, 0.3),
    (77, 0.5), (80, 0.4), (81, 0.7), (82, 0.5), (83, 0.3), (84, 0.6), (85, 0.4), (88, 0.5), (89, 0.7), (90, 0.4),
    (91, 0.6), (92, 0.3), (93, 0.5), (95, 0.6), (96, 0.4), (97, 0.5),
]
COV_POINTS_NEAR_LINE = [
    (0.8, 14), (1.4, 9), (2.1, 16), (2.6, 11), (3.4, 7), (4.1, 12), (4.6, 4), (5.1, 10), (5.7, 15), (6.4, 9), (6.9, 4),
    (7.6, 10), (8.3, 13), (8.7, 6), (9.3, 16), (9.8, 10), (0.4, 4), (1.9, 1), (4.4, 2), (7.9, 2), (9.2, 1),
    (10.4, 13), (10.9, 8), (11.4, 22), (12, 17), (12.6, 13), (13.2, 25), (13.8, 10), (14.4, 19), (14.9, 33),
    (15.4, 17), (15.9, 29), (16.4, 12), (17.1, 21), (17.5, 14), (18.1, 26), (18.6, 9), (19.1, 33), (19.6, 20),
    (11.7, 5), (13.5, 4), (15.2, 1), (17.9, 1),
    (20.3, 28), (20.7, 17), (21.3, 24), (21.7, 36), (22.1, 12), (22.8, 33), (23.2, 20), (23.8, 30), (24.2, 24),
    (24.8, 37), (25.3, 28), (25.7, 12), (26.1, 26), (26.6, 33), (27.2, 20), (27.6, 40), (28.1, 30), (28.5, 13),
    (29.1, 25), (29.5, 35), (22.5, 2), (24.2, 4), (27, 1), (29.2, 6),
    (30.2, 27), (30.8, 22), (31.4, 33), (32, 13), (32.6, 36), (33.1, 28), (33.7, 31), (34.2, 40), (34.9, 26),
    (35.5, 30), (36.2, 22), (36.8, 42), (37.4, 25), (38.1, 18), (38.8, 40), (39.3, 22), (39.9, 30), (40.6, 25),
    (41.2, 33), (41.9, 20), (42.5, 26), (43.2, 44), (43.9, 27), (44.6, 20), (35.8, 1), (39.6, 8), (43.4, 2),
    (45.8, 16), (46.4, 24), (47.2, 12), (47.8, 22), (48.6, 8), (49.6, 14), (50.3, 4), (51.8, 9), (52.2, 17),
    (53.2, 8), (54.6, 10), (55.5, 5), (56.2, 14), (57.1, 7), (58.5, 3), (59.5, 6), (56, 1), (58, 0.5),
]
SHADED_SPANS = [(0, 10), (20, 30), (90, 100)]

ROW_LABELS = ["Actions\nVs\nActions", "Actions\nVs\nRewards", "Covariance"]

W, H = 725, 559


def px_axes(fig, left, top, right, bottom):
    # place an axes from pixel bounds of the reference image
    return fig.add_axes([left / W, 1 - bottom / H, (right - left) / W, (bottom - top) / H])


def frame(ax, ylim=(-0.5, 100.5)):
    ax.set_xlim(-0.5, 100.5)
    ax.set_ylim(*ylim)
    ax.set_xticks([])
    ax.set_yticks([])
    for sp in ax.spines.values():
        sp.set_linewidth(1.0)
        sp.set_color("#222222")


def dots(ax, pts, s=4.5):
    a = np.asarray(pts, dtype=float)
    ax.scatter(a[:, 0], a[:, 1], s=s, c="black", linewidths=0)


def main():
    fig = plt.figure(figsize=(W / 100, H / 100), dpi=100)

    cols = [(170, 352), (363, 545), (557, 739)]
    rows = [(5, 186), (191, 373)]

    ax = px_axes(fig, cols[0][0], rows[0][0], cols[0][1], rows[0][1])
    ax.scatter(AA_UNI_X, AA_UNI_Y, s=4.5, c="black", linewidths=0)
    ax.scatter(AA_UNI2_X, AA_UNI2_Y, s=4.5, c="black", linewidths=0)
    frame(ax)

    ax = px_axes(fig, cols[1][0], rows[0][0], cols[1][1], rows[0][1])
    dots(ax, AA_MID_CLUSTER, s=6)
    for pts in (AA_MID_LEFT, AA_MID_TOP, AA_MID_SPARSE):
        dots(ax, pts)
    frame(ax)

    ax = px_axes(fig, cols[2][0], rows[0][0], cols[2][1], rows[0][1])
    dots(ax, AA_END_BLOB, s=14)
    frame(ax)

    ax = px_axes(fig, cols[0][0], rows[1][0], cols[0][1], rows[1][1])
    dots(ax, AR_START_LEFT_CURVE)
    dots(ax, AR_START_RIGHT_CURVE)
    dots(ax, AR_START_SCATTER)
    frame(ax)

    ax = px_axes(fig, cols[1][0], rows[1][0], cols[1][1], rows[1][1])
    dots(ax, AR_MID_BAND, s=9)
    dots(ax, AR_MID_SCATTER)
    frame(ax)

    ax = px_axes(fig, cols[2][0], rows[1][0], cols[2][1], rows[1][1])
    dots(ax, AR_END_DOME, s=12)
    frame(ax)

    ax = px_axes(fig, 173, 377, 739, 557)
    for a, b in SHADED_SPANS:
        ax.axvspan(a, b, color="#e3e3e3", lw=0, zorder=0)
    dots(ax, COV_POINTS, s=2.4)
    dots(ax, COV_POINTS_NEAR_LINE, s=2.4)
    ax.plot(COV_LINE_X, COV_LINE_Y, color="black", lw=1.0)
    frame(ax, ylim=(-0.5, 100))

    label_kw = dict(ha="center", va="center", fontsize=23, family="cmr10", linespacing=1.57)
    fig.text(65 / W, 1 - 97 / H, ROW_LABELS[0], **label_kw)
    fig.text(70 / W, 1 - 284 / H, ROW_LABELS[1], **label_kw)
    fig.text(89.5 / W, 1 - 470 / H, ROW_LABELS[2], **label_kw)

    fig.savefig("out.png", dpi=100)


if __name__ == "__main__":
    main()
